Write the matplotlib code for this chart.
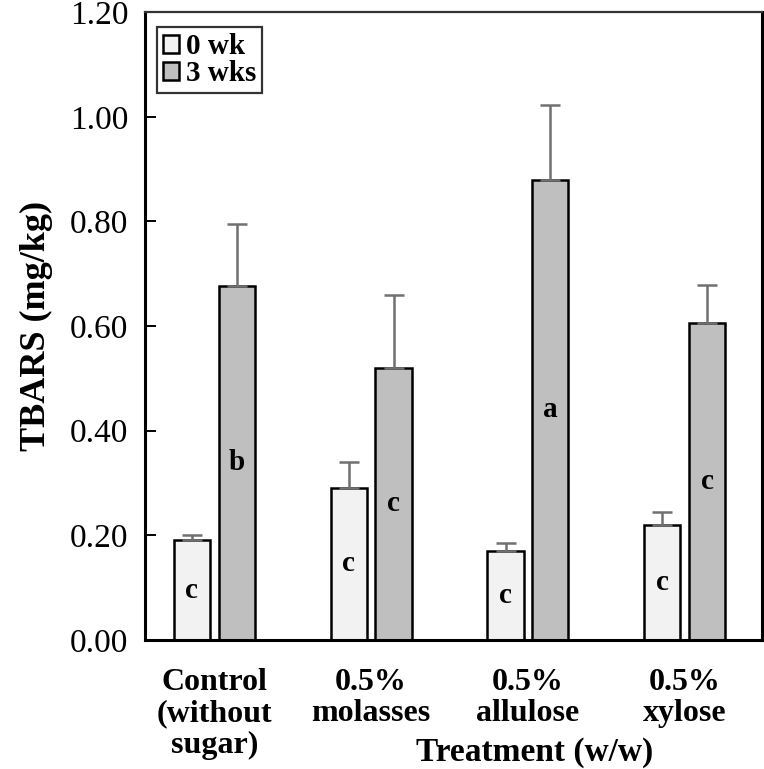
import numpy as np
import matplotlib
matplotlib.use("Agg")
import matplotlib.pyplot as plt

plt.rcParams['font.family'] = ['Liberation Serif', 'DejaVu Serif']

categories = ["Control\n(without\nsugar)", "0.5%\nmolasses", "0.5%\nallulose", "0.5%\nxylose"]
series = ["0 wk", "3 wks"]
wk0 = [0.19, 0.29, 0.17, 0.22]
wk0_err = [0.01, 0.05, 0.015, 0.025]
wk3 = [0.677, 0.52, 0.88, 0.606]
wk3_err = [0.118, 0.14, 0.142, 0.072]
wk0_letters = ["c", "c", "c", "c"]
wk3_letters = ["b", "c", "a", "c"]

fig = plt.figure(figsize=(7.64, 7.69), dpi=100)
ax = fig.add_axes([0.19, 0.168, 0.807, 0.816])

x = np.arange(len(categories))
w = 0.23
off = 0.143
err_kw = dict(ecolor="#707070", elinewidth=1.8, capsize=7, capthick=1.8)

ax.bar(x - off, wk0, w, color="#f2f2f2", edgecolor="black", linewidth=1.8,
       yerr=[np.zeros(4), wk0_err], error_kw=err_kw, label=series[0], zorder=2)
ax.bar(x + off, wk3, w, color="#bfbfbf", edgecolor="black", linewidth=1.8,
       yerr=[np.zeros(4), wk3_err], error_kw=err_kw, label=series[1], zorder=2)

# significance letters, placed at half bar height
for xi, v, t in zip(x - off, wk0, wk0_letters):
    ax.text(xi, v / 2, t, ha="center", va="center", fontsize=21, fontweight="bold")
for xi, v, t in zip(x + off, wk3, wk3_letters):
    ax.text(xi, v / 2, t, ha="center", va="center", fontsize=21, fontweight="bold")

ax.set_xlim(-0.44, 3.49)
ax.set_ylim(0, 1.2)
yt = np.arange(0, 1.21, 0.2)
ax.set_yticks(yt)
ax.set_yticklabels([f"{v:.2f}" for v in yt], fontsize=24)
ax.tick_params(axis="y", direction="in", length=8, width=1.4, pad=12)
ax.set_xticks(x)
ax.set_xticklabels(categories, fontsize=23, fontweight="bold", linespacing=1.12)
ax.tick_params(axis="x", length=0, pad=20)

for s in ["left", "bottom", "right"]:
    ax.spines[s].set_linewidth(2.2)
ax.spines["top"].set_linewidth(1.6)
ax.spines["top"].set_color("#333333")

ax.set_ylabel("TBARS (mg/kg)", fontsize=26, fontweight="bold", labelpad=12)
fig.text(0.70, 0.021, "Treatment (w/w)", ha="center", va="center", fontsize=24, fontweight="bold")

leg = ax.legend(loc="upper left", bbox_to_anchor=(0.019, 0.976),
                prop={"weight": "bold", "size": 21}, frameon=True, fancybox=False,
                edgecolor="black", handlelength=0.55, handleheight=0.55,
                handletextpad=0.25, borderpad=0.2, labelspacing=0.0,
                borderaxespad=0)
leg.get_frame().set_linewidth(1.6)

fig.savefig("out.png", dpi=100)
